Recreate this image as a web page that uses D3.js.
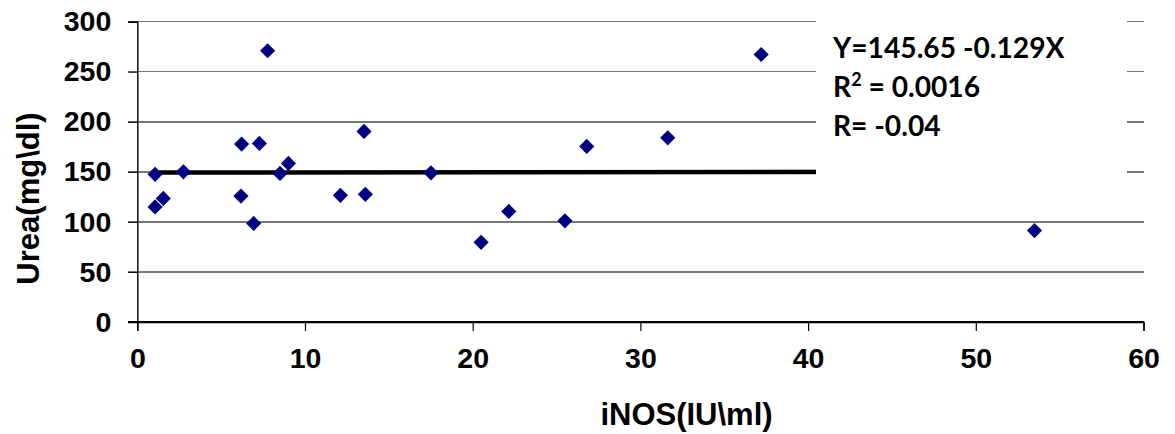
<!DOCTYPE html>
<html>
<head>
<meta charset="utf-8">
<script src="https://cdn.jsdelivr.net/npm/d3@7"></script>
<style>
  html, body { margin: 0; padding: 0; background: #fff; }
  svg { display: block; }
  .tick-label { font-family: "Liberation Sans", Arial, sans-serif; font-weight: bold; font-size: 28.5px; fill: #000; }
  .axis-title { font-family: "Liberation Sans", Arial, sans-serif; font-weight: bold; font-size: 31px; fill: #000; }
  .stats { font-family: Lato, "Open Sans", sans-serif; font-weight: bold; font-size: 28.2px; fill: #000; }
</style>
</head>
<body>
<svg id="chart" width="1175" height="434"></svg>
<script>
// iNOS activity (IU\ml) against serum urea (mg\dl), one entry per subject
const inos = [1.06, 1.06, 1.55, 2.75, 7.77, 6.22, 7.28, 6.18, 6.94, 8.51, 9.01,
              13.52, 12.11, 13.6, 17.51, 20.5, 22.15, 25.5, 26.8, 31.63, 37.2, 53.5];
const urea = [147.5, 115, 123.5, 150, 271, 177.7, 178.4, 125.8, 98.5, 148.4, 158.4,
              190.4, 126.5, 127.5, 149, 79.6, 110.5, 101.1, 175.4, 184, 267.2, 91.3];

// fitted line end points
const trendX = [1.06, 53.5];
const trendY = [149.3, 150.2];

const xTicks = [0, 10, 20, 30, 40, 50, 60];
const yTicks = [0, 50, 100, 150, 200, 250, 300];

const statLines = ["Y=145.65 -0.129X", "R2 = 0.0016", "R= -0.04"];

const svg = d3.select("#chart");

const x = d3.scaleLinear().domain([0, 60]).range([137.3, 1143.5]);
const y = d3.scaleLinear().domain([0, 300]).range([322, 21.7]);

// horizontal gridlines
svg.append("g")
  .selectAll("line")
  .data(yTicks)
  .join("line")
  .attr("x1", x(0) - 9)
  .attr("x2", x(60))
  .attr("y1", d => y(d))
  .attr("y2", d => y(d))
  .attr("stroke", d => d === 0 ? "#000" : "#777")
  .attr("stroke-width", 1.4)
  .attr("shape-rendering", "crispEdges");

// y axis
const yAxis = svg.append("g").attr("transform", `translate(${x(0)},0)`)
  .call(d3.axisLeft(y).tickValues(yTicks).tickSize(9).tickPadding(17));
yAxis.select(".domain").attr("stroke", "#000").attr("stroke-width", 1.4);
yAxis.selectAll(".tick line").attr("stroke", "#000");
yAxis.selectAll(".tick text").attr("class", "tick-label").attr("font-size", null).attr("font-family", null);

// x axis
const xAxis = svg.append("g").attr("transform", `translate(0,${y(0)})`)
  .call(d3.axisBottom(x).tickValues(xTicks).tickSize(9).tickPadding(17));
xAxis.select(".domain").attr("stroke", "#000").attr("stroke-width", 1.4);
xAxis.selectAll(".tick line").attr("stroke", "#000").attr("stroke-width", 1.2);
xAxis.selectAll(".tick text").attr("class", "tick-label").attr("font-size", null).attr("font-family", null);

// regression line
svg.append("line")
  .attr("x1", x(trendX[0])).attr("y1", y(trendY[0]))
  .attr("x2", x(trendX[1])).attr("y2", y(trendY[1]))
  .attr("stroke", "#000")
  .attr("stroke-width", 4.6);

// data points as navy diamonds
svg.append("g")
  .selectAll("path")
  .data(inos.map((v, i) => [v, urea[i]]))
  .join("path")
  .attr("d", d3.symbol(d3.symbolSquare, 115))
  .attr("transform", d => `translate(${x(d[0])},${y(d[1])}) rotate(45)`)
  .attr("fill", "#000080");

// statistics box
svg.append("rect")
  .attr("x", 816).attr("y", 14)
  .attr("width", 311).attr("height", 182)
  .attr("fill", "#fff");

const stats = svg.append("g").attr("class", "stats");
stats.append("text").attr("x", 833).attr("y", 58).text(statLines[0]);
const r2 = stats.append("text").attr("x", 833).attr("y", 97);
r2.append("tspan").text("R");
r2.append("tspan").attr("font-size", 18).attr("dy", -11).text("2");
r2.append("tspan").attr("dy", 11).text(" = 0.0016");
stats.append("text").attr("x", 833).attr("y", 136).text(statLines[2]);

// axis titles
svg.append("text")
  .attr("class", "axis-title")
  .attr("text-anchor", "middle")
  .attr("x", 686.5).attr("y", 425)
  .text("iNOS(IU\\ml)");

svg.append("text")
  .attr("class", "axis-title")
  .attr("text-anchor", "middle")
  .attr("transform", "translate(39,198.5) rotate(-90)")
  .text("Urea(mg\\dl)");
</script>
</body>
</html>
